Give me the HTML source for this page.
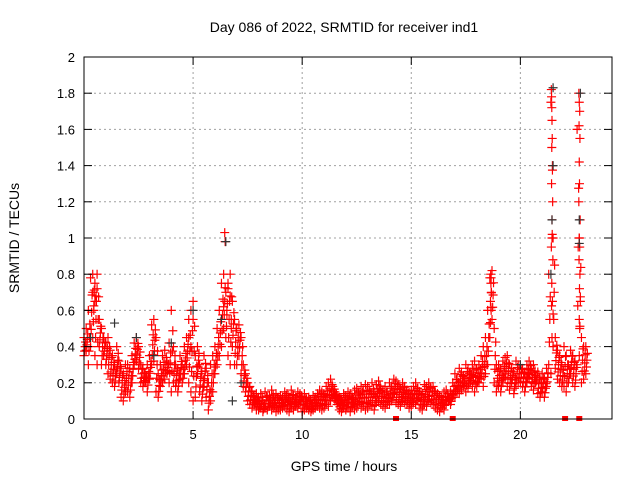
<!DOCTYPE html>
<html><head><meta charset="utf-8"><style>
body{margin:0;background:#fff}
svg{display:block;font-family:"Liberation Sans",sans-serif}
</style></head><body>
<svg id="chart" width="640" height="480" viewBox="0 0 640 480" xmlns="http://www.w3.org/2000/svg">
<rect width="640" height="480" fill="#fff"/>
<text x="344" y="32" font-size="14" text-anchor="middle">Day 086 of 2022, SRMTID for receiver ind1</text>
<text x="344" y="471" font-size="14" text-anchor="middle">GPS time / hours</text>
<text transform="translate(19,238) rotate(-90)" font-size="14" text-anchor="middle">SRMTID / TECUs</text>
<g id="grid"></g><g id="marks"></g><g id="axes"></g>
</svg>
<script>
const xTicks=[0,5,10,15,20];
const yTicks=[0,0.2,0.4,0.6,0.8,1,1.2,1.4,1.6,1.8,2];
const yTickLabels=["0","0.2","0.4","0.6","0.8","1","1.2","1.4","1.6","1.8","2"];
const lowVals=[.35,.38,.30,.40,.45,.35,.30,.40,.30,.35,.30,.25,.22,.20,.18,.25,.20,.12,.10,.15,.15,.12,.20,.30,.32,.28,.20,.18,.20,.15,.22,.30,.32,.15,.12,.18,.20,.22,.25,.20,.15,.20,.18,.15,.22,.20,.25,.30,.20,.15,.10,.12,.25,.15,.10,.18,.12,.05,.10,.15,.25,.30,.35,.40,.50,.45,.35,.30,.40,.30,.30,.35,.25,.18,.15,.10,.08,.06,.08,.05,.05,.06,.04,.06,.05,.07,.05,.06,.04,.05,.05,.06,.07,.05,.04,.06,.05,.07,.06,.08,.04,.05,.06,.05,.04,.05,.06,.07,.06,.05,.06,.08,.07,.10,.12,.10,.08,.05,.04,.06,.05,.06,.04,.07,.05,.06,.08,.06,.07,.05,.06,.08,.07,.05,.09,.10,.08,.07,.06,.08,.08,.10,.12,.09,.08,.07,.10,.09,.08,.06,.07,.09,.08,.10,.06,.05,.08,.07,.10,.09,.08,.06,.05,.04,.06,.05,.08,.10,.08,.12,.12,.15,.14,.16,.18,.15,.17,.20,.18,.15,.18,.20,.22,.18,.25,.30,.45,.55,.20,.15,.18,.15,.20,.22,.18,.16,.20,.14,.18,.20,.20,.18,.15,.20,.22,.18,.16,.20,.14,.12,.15,.12,.18,.30,.25,.40,.28,.22,.20,.18,.18,.15,.20,.25,.20,.18,.30,.35,.20,.22,.25];
const highVals=[.45,.50,.60,.78,.80,.75,.80,.55,.50,.45,.42,.45,.38,.35,.30,.40,.32,.28,.25,.30,.30,.28,.35,.42,.45,.40,.30,.28,.25,.30,.35,.52,.55,.45,.25,.30,.35,.38,.32,.42,.60,.40,.30,.28,.35,.30,.40,.45,.55,.60,.65,.35,.40,.30,.25,.35,.28,.20,.30,.35,.40,.50,.60,.75,.80,.70,.75,.80,.65,.55,.50,.52,.45,.30,.25,.20,.18,.15,.12,.14,.12,.14,.10,.15,.12,.13,.16,.12,.14,.12,.13,.12,.15,.14,.12,.16,.13,.12,.15,.14,.12,.14,.11,.12,.10,.13,.12,.14,.16,.15,.14,.18,.20,.22,.18,.15,.13,.12,.11,.14,.13,.15,.14,.12,.16,.17,.15,.18,.16,.19,.18,.16,.20,.15,.19,.21,.17,.16,.18,.15,.20,.18,.22,.21,.19,.17,.20,.18,.16,.15,.16,.18,.20,.17,.15,.14,.19,.18,.20,.17,.18,.15,.14,.13,.12,.15,.16,.12,.15,.20,.25,.22,.28,.26,.24,.30,.28,.26,.30,.32,.28,.30,.35,.40,.45,.60,.78,.82,.50,.30,.30,.28,.32,.34,.35,.30,.28,.26,.32,.30,.30,.28,.26,.30,.32,.28,.30,.24,.26,.22,.25,.22,.28,.80,1.75,1.00,.45,.38,.35,.30,.40,.35,.30,.38,.35,.32,1.60,1.00,.45,.40,.40];
const extraT=[21.42,21.43,21.44,21.45,21.46,21.44,21.47,21.43,21.48,21.45,21.46,21.42,21.49,21.44,21.47,21.5,21.45,22.68,22.7,22.72,22.69,22.73,22.7,22.71,22.68,22.74,22.7,22.72,22.69,22.73,22.71,22.75,22.7,22.72,6.45,6.47,18.64,18.66,18.65,18.67,18.63,18.66,0.4,0.5,0.6,0.45,0.55,6.4,6.6,6.7,6.55,6.75,4.8,4.9,5.0];
const extraV=[1.82,1.78,1.72,1.65,1.55,1.50,1.40,1.30,1.20,1.10,1.02,0.95,0.88,0.75,0.65,0.58,0.45,1.80,1.75,1.70,1.62,1.55,1.42,1.30,1.20,1.10,1.00,0.95,0.88,0.80,0.72,0.65,0.55,0.50,1.03,0.98,0.80,0.78,0.75,0.70,0.65,0.60,0.70,0.65,0.72,0.60,0.68,0.62,0.72,0.68,0.60,0.50,0.45,0.40,0.55];
const blackT=[0.3,1.4,2.4,4.0,6.3,6.5,7.2,21.4,21.45,21.5,21.5,22.7,22.7,22.75,20.0,6.8,3.2,5.0];
const blackV=[.45,.53,.45,.42,.55,.98,.2,.8,1.1,1.4,1.83,.97,1.1,1.8,.3,.1,.35,.6];
const flagT=[14.3,16.9,22.05,22.7];

const X0=84,X1=612,Y0=419,Y1=57;
const xs=t=>X0+t*(X1-X0)/24.2;
const ys=v=>Y0-v*(Y0-Y1)/2;
const NS="http://www.w3.org/2000/svg";
function mk(tag,attrs,parent){const e=document.createElementNS(NS,tag);for(const k in attrs)e.setAttribute(k,attrs[k]);parent.appendChild(e);return e;}
const grid=document.getElementById('grid'),marks=document.getElementById('marks'),axes=document.getElementById('axes');
yTicks.forEach((v,i)=>{
  if(i>0&&i<yTicks.length-1){const g=mk('line',{x1:X0,x2:X1,y1:ys(v),y2:ys(v),stroke:'#a0a0a0','stroke-dasharray':'2,3'},grid);
  
  }
  mk('line',{x1:X0,x2:X0+8,y1:ys(v),y2:ys(v),stroke:'#000'},axes);
  mk('line',{x1:X1,x2:X1-8,y1:ys(v),y2:ys(v),stroke:'#000'},axes);
  const t=mk('text',{x:X0-9,y:ys(v)+5,'font-size':13,'text-anchor':'end'},axes);t.textContent=yTickLabels[i];
  
  
});
xTicks.forEach(v=>{
  if(v>0){const g=mk('line',{x1:xs(v),x2:xs(v),y1:Y0,y2:Y1,stroke:'#a0a0a0','stroke-dasharray':'2,3'},grid);
  
  }
  mk('line',{x1:xs(v),x2:xs(v),y1:Y0,y2:Y0-8,stroke:'#000'},axes);
  mk('line',{x1:xs(v),x2:xs(v),y1:Y1,y2:Y1+8,stroke:'#000'},axes);
  const t=mk('text',{x:xs(v),y:Y0+20,'font-size':13,'text-anchor':'middle'},axes);t.textContent=String(v);
  
  
});
const frame=mk('rect',{x:X0,y:Y1,width:X1-X0,height:Y0-Y1,fill:'none',stroke:'#000'},axes);


function cross(t,v,col){const x=xs(t),y=ys(v);
  const p=mk('path',{d:`M${x-4.5} ${y}H${x+4.5}M${x} ${y-4.5}V${y+4.5}`,stroke:col,'stroke-width':1.2,fill:'none'},marks);
  
  }
lowVals.forEach((v,i)=>{const t=i*0.1;const h=highVals[i];
  cross(t,v,'#f00');cross(t+0.05,(v+h)/2,'#f00');cross(t,h,'#f00');
  cross(t+0.03,v+(h-v)*0.25,'#f00');cross(t+0.07,v+(h-v)*0.75,'#f00');});
extraT.forEach((t,i)=>cross(t,extraV[i],'#f00'));
blackT.forEach((t,i)=>cross(t,blackV[i],'#333'));
flagT.forEach(t=>{const r=mk('rect',{x:xs(t)-3,y:Y0-3,width:6,height:5,fill:'#f00'},marks);
  
  });
</script>
</body></html>
